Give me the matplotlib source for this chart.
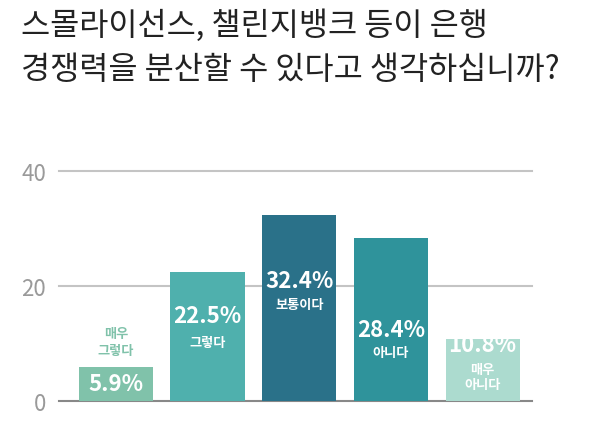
import matplotlib.pyplot as plt

plt.rcParams['font.family'] = ['Noto Sans CJK KR', 'DejaVu Sans']

# 데이터
categories = ['매우\n그렇다', '그렇다', '보통이다', '아니다', '매우\n아니다']
values = [5.9, 22.5, 32.4, 28.4, 10.8]
colors = ['#80c2aa', '#4fb0ad', '#2a7189', '#2f939b', '#acdbcf']
yticks = [0, 20, 40]

title_lines = ['스몰라이선스, 챌린지뱅크 등이 은행', '경쟁력을 분산할 수 있다고 생각하십니까?']

fig = plt.figure(figsize=(6, 4.27), dpi=100)
ax = fig.add_axes([0.098, 0.0585, 0.789, 0.539])

x = range(len(values))
ax.bar(x, values, width=0.81, color=colors, zorder=3)

ax.set_xlim(-0.622, 4.54)
ax.set_ylim(0, 40)

# 격자선
for t in yticks:
    ax.axhline(t, color='#888888' if t == 0 else '#c4c4c4', lw=1.5, zorder=1, clip_on=False)

ax.set_yticks(yticks)
ax.set_yticklabels([str(t) for t in yticks], fontsize=16, color='#9a9a9a', fontweight='light')
ax.tick_params(axis='y', length=0, pad=9)
ax.set_xticks([])
for s in ax.spines.values():
    s.set_visible(False)

# 막대 안 라벨
pct_y = [3.0, 14.8, 20.9, 12.5, 9.9]
cat_y = [10.3, 10.3, 16.9, 8.5, 4.3]
for i, v in enumerate(values):
    ax.text(i, pct_y[i], f'{v}%', ha='center', va='center', color='white',
            fontsize=16, fontweight='bold', zorder=4)
    if i == 0:
        ax.text(i, cat_y[i], categories[i], ha='center', va='center', color='#80c2aa',
                fontsize=9.5, fontweight='bold', linespacing=1.3, zorder=4)
    else:
        ax.text(i, cat_y[i], categories[i], ha='center', va='center', color='white',
                fontsize=9.5, fontweight='bold', linespacing=1.1, zorder=4)

fig.text(0.035, 0.941, title_lines[0], ha='left', va='center', fontsize=22.8,
         color='#222222', fontweight='medium')
fig.text(0.035, 0.836, title_lines[1], ha='left', va='center', fontsize=22.8,
         color='#222222', fontweight='medium')

fig.savefig('out.png', dpi=100)
